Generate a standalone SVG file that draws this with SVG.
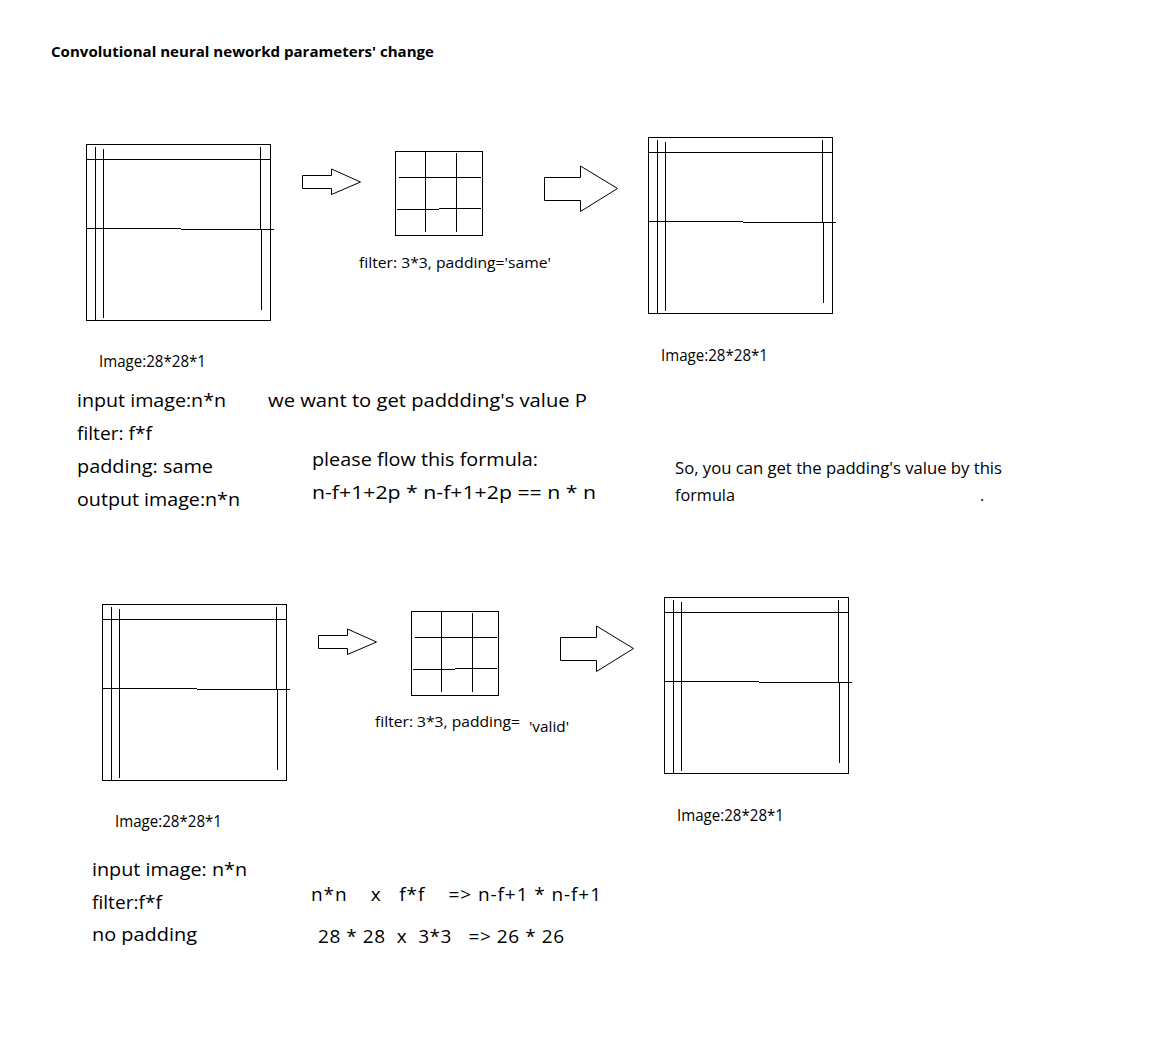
<svg xmlns="http://www.w3.org/2000/svg" xmlns:xlink="http://www.w3.org/1999/xlink" width="1152" height="1050" viewBox="0 0 1152 1050">
<style>
.ln{stroke:#000;stroke-width:1;fill:none}
.ar{stroke:#000;stroke-width:1;fill:#fff;stroke-linejoin:miter}
text{font-family:"Open Sans","Noto Sans","Liberation Sans",sans-serif;fill:#000}
.t{font-size:19px}
.s{font-size:15px}
.i{font-size:15.5px}
.m{font-size:16px}
.h{font-size:15px;font-weight:bold}
</style>
<defs>
<g id="imgbox">
<rect class="ln" x="86.5" y="144.5" width="184" height="176"/>
<path class="ln" d="M95.5 147V320M103.5 149V318M260.5 147V229M261.5 229V310M86 159.5H270M86 228.5H181M181 229.5H274"/>
</g>
<g id="filterbox">
<rect class="ln" x="395.5" y="151.5" width="87" height="84"/>
<path class="ln" d="M425.5 152V232M456.5 153V232M399 177.5H481M397 209.5H439M439 208.5H481"/>
</g>
<polygon id="arrowS" class="ar" points="302.5,175.5 331.5,175.5 331.5,169 360.5,182 331.5,194.5 331.5,188.5 302.5,188.5"/>
<polygon id="arrowB" class="ar" points="544.5,177.5 580.5,177.5 580.5,166 617.5,188.5 580.5,211.5 580.5,200.5 544.5,200.5"/>
</defs>
<rect width="1152" height="1050" fill="#fff"/>
<text class="h" x="51" y="57" textLength="383" lengthAdjust="spacingAndGlyphs">Convolutional neural neworkd parameters' change</text>

<g id="input-image-same">
<use xlink:href="#imgbox"/>
<text class="i" x="99" y="367" textLength="107" lengthAdjust="spacingAndGlyphs">Image:28*28*1</text>
</g>
<g id="filter-same">
<use xlink:href="#filterbox"/>
<text class="s" x="359" y="268" textLength="192" lengthAdjust="spacingAndGlyphs">filter: 3*3, padding='same'</text>
</g>
<g id="output-image-same">
<use xlink:href="#imgbox" transform="translate(562,-7)"/>
<text class="i" x="661" y="361" textLength="107" lengthAdjust="spacingAndGlyphs">Image:28*28*1</text>
</g>

<g id="input-image-valid">
<use xlink:href="#imgbox" transform="translate(16,460)"/>
<text class="i" x="115" y="827" textLength="107" lengthAdjust="spacingAndGlyphs">Image:28*28*1</text>
</g>
<g id="filter-valid">
<use xlink:href="#filterbox" transform="translate(16,460)"/>
<text class="s" x="375" y="727" textLength="145" lengthAdjust="spacingAndGlyphs">filter: 3*3, padding=</text>
<text class="s" x="529" y="732" textLength="40" lengthAdjust="spacingAndGlyphs">'valid'</text>
</g>
<g id="output-image-valid">
<use xlink:href="#imgbox" transform="translate(578,453)"/>
<text class="i" x="677" y="821" textLength="107" lengthAdjust="spacingAndGlyphs">Image:28*28*1</text>
</g>

<g id="connectors">
<use xlink:href="#arrowS"/>
<use xlink:href="#arrowB"/>
<use xlink:href="#arrowS" transform="translate(16,460)"/>
<use xlink:href="#arrowB" transform="translate(16,460)"/>
</g>

<g id="notes-same">
<text class="t" x="77" y="407" textLength="149" lengthAdjust="spacingAndGlyphs">input image:n*n</text>
<text class="t" x="268" y="407" textLength="319" lengthAdjust="spacingAndGlyphs">we want to get paddding's value P</text>
<text class="t" x="77" y="440" textLength="75" lengthAdjust="spacingAndGlyphs">filter: f*f</text>
<text class="t" x="77" y="473" textLength="136" lengthAdjust="spacingAndGlyphs">padding: same</text>
<text class="t" x="77" y="506" textLength="163" lengthAdjust="spacingAndGlyphs">output image:n*n</text>
<text class="t" x="312" y="466" textLength="226" lengthAdjust="spacingAndGlyphs">please flow this formula:</text>
<text class="t" x="312" y="499" textLength="284" lengthAdjust="spacingAndGlyphs">n-f+1+2p * n-f+1+2p == n * n</text>
<text class="m" x="675" y="474" textLength="327" lengthAdjust="spacingAndGlyphs">So, you can get the padding's value by this</text>
<text class="m" x="675" y="501" textLength="60" lengthAdjust="spacingAndGlyphs">formula</text>
<text class="m" x="980" y="501">.</text>
</g>

<g id="notes-valid">
<text class="t" x="92" y="876" textLength="155" lengthAdjust="spacingAndGlyphs">input image: n*n</text>
<text class="t" x="92" y="909" textLength="70" lengthAdjust="spacingAndGlyphs">filter:f*f</text>
<text class="t" x="92" y="941" textLength="105" lengthAdjust="spacingAndGlyphs">no padding</text>
<text class="t" x="311" y="901" xml:space="preserve" textLength="290" lengthAdjust="spacing">n*n    x   f*f    =&gt; n-f+1 * n-f+1</text>
<text class="t" x="318" y="943" xml:space="preserve" textLength="246" lengthAdjust="spacing">28 * 28  x  3*3   =&gt; 26 * 26</text>
</g>
</svg>
